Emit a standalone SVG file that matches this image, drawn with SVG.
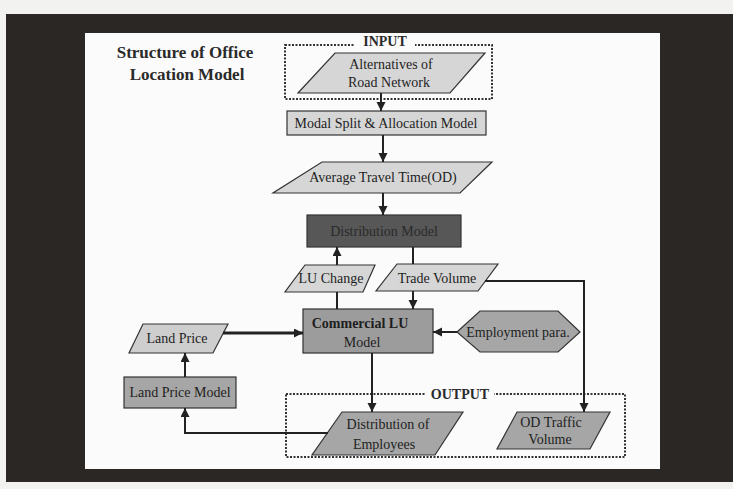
<svg xmlns="http://www.w3.org/2000/svg" width="733" height="489" viewBox="0 0 733 489">
  <defs>
    <marker id="arr" markerUnits="userSpaceOnUse" markerWidth="10" markerHeight="10" refX="9" refY="4.5" orient="auto">
      <path d="M0,0 L9,4.5 L0,9 z" fill="#222"/>
    </marker>
    <style>
      .t { font-family: "Liberation Serif", "Times New Roman", serif; font-size: 14px; fill: #1e1e1e; text-anchor: middle; }
      .tb { font-family: "Liberation Serif", "Times New Roman", serif; font-weight: bold; fill: #2a2a2a; text-anchor: middle; }
      .light { fill: #d6d6d6; stroke: #333; stroke-width: 1.2; }
      .mid { fill: #a6a6a6; stroke: #333; stroke-width: 1.2; }
      .dark { fill: #575757; stroke: #333; stroke-width: 1.2; }
      .dot { fill: none; stroke: #333; stroke-width: 2; stroke-dasharray: 2 1.5; }
      .c { fill: none; stroke: #222; stroke-width: 2; }
    </style>
  </defs>

  <!-- background and frame -->
  <rect x="0" y="0" width="733" height="489" fill="#f2f2f0"/>
  <rect x="6" y="14" width="727" height="468" fill="#2b2724"/>
  <rect x="85" y="33" width="575" height="436" fill="#fbfbfb"/>

  <!-- title -->
  <g id="title">
    <text class="tb" x="185" y="58" font-size="17">Structure of Office</text>
    <text class="tb" x="187" y="80" font-size="17">Location Model</text>
  </g>

  <!-- input / output frames -->
  <g id="input-frame">
    <rect class="dot" x="285" y="45" width="207" height="54"/>
    <rect x="355" y="36" width="60" height="16" fill="#fbfbfb"/>
    <text class="tb" x="385" y="46" font-size="14">INPUT</text>
  </g>
  <g id="output-frame">
    <rect class="dot" x="286" y="394" width="339" height="63"/>
    <rect x="426" y="385" width="68" height="16" fill="#fbfbfb"/>
    <text class="tb" x="460" y="399" font-size="14">OUTPUT</text>
  </g>

  <!-- nodes -->
  <g id="alternatives">
    <polygon class="light" points="335,53 485,53 450,93 298,93"/>
    <text class="t" x="391" y="69">Alternatives of</text>
    <text class="t" x="389" y="87">Road Network</text>
  </g>
  <g id="modal-split">
    <rect class="light" x="287" y="111" width="199" height="24"/>
    <text class="t" x="386" y="128">Modal Split &amp; Allocation Model</text>
  </g>
  <g id="avg-travel-time">
    <polygon class="light" points="322,162 492,162 460,193 273,193"/>
    <text class="t" x="383" y="182">Average Travel Time(OD)</text>
  </g>
  <g id="distribution-model">
    <rect class="dark" x="307" y="215" width="154" height="32"/>
    <text class="t" x="384" y="236" style="fill:#2a2a2a">Distribution Model</text>
  </g>
  <g id="lu-change">
    <polygon class="light" points="305,265 375,265 363,292 285,292"/>
    <text class="t" x="331" y="283">LU Change</text>
  </g>
  <g id="trade-volume">
    <polygon class="light" points="397,264 498,264 478,291 376,291"/>
    <text class="t" x="437" y="283">Trade Volume</text>
  </g>
  <g id="commercial-lu">
    <rect class="mid" x="303" y="309" width="130" height="44" style="fill:#9c9c9c"/>
    <text class="t" x="360" y="328" style="font-weight:bold">Commercial LU</text>
    <text class="t" x="362" y="347">Model</text>
  </g>
  <g id="employment-para">
    <polygon class="mid" points="457,332 480,311 558,311 580,332 558,352 480,352"/>
    <text class="t" x="518" y="337">Employment para.</text>
  </g>
  <g id="land-price">
    <polygon class="light" points="143,324 228,324 213,353 129,353" style="fill:#cecece"/>
    <text class="t" x="177" y="343">Land Price</text>
  </g>
  <g id="land-price-model">
    <rect class="mid" x="124" y="377" width="112" height="31"/>
    <text class="t" x="180" y="397">Land Price Model</text>
  </g>
  <g id="distribution-employees">
    <polygon class="mid" points="342,412 463,412 435,455 312,455"/>
    <text class="t" x="388" y="429">Distribution of</text>
    <text class="t" x="384" y="449">Employees</text>
  </g>
  <g id="od-traffic">
    <polygon class="mid" points="517,412 610,412 590,449 497,449"/>
    <text class="t" x="551" y="427">OD Traffic</text>
    <text class="t" x="550" y="444">Volume</text>
  </g>

  <!-- connectors -->
  <g id="connectors">
    <line class="c" x1="381" y1="93" x2="381" y2="111" marker-end="url(#arr)"/>
    <line class="c" x1="383" y1="135" x2="383" y2="162" marker-end="url(#arr)"/>
    <line class="c" x1="383" y1="193" x2="383" y2="215" marker-end="url(#arr)"/>
    <line class="c" x1="337" y1="265" x2="337" y2="247" marker-end="url(#arr)"/>
    <line class="c" x1="337" y1="309" x2="337" y2="292"/>
    <line class="c" x1="413" y1="247" x2="413" y2="264"/>
    <line class="c" x1="413" y1="291" x2="413" y2="309" marker-end="url(#arr)"/>
    <path class="c" d="M485,281 H584 V412" marker-end="url(#arr)"/>
    <line class="c" x1="223" y1="333" x2="303" y2="333" marker-end="url(#arr)" style="stroke-width:3"/>
    <line class="c" x1="457" y1="332" x2="433" y2="332" marker-end="url(#arr)"/>
    <line class="c" x1="372" y1="353" x2="372" y2="412" marker-end="url(#arr)"/>
    <path class="c" d="M328,433 H185 V408" marker-end="url(#arr)"/>
    <line class="c" x1="185" y1="377" x2="185" y2="353" marker-end="url(#arr)"/>
  </g>
</svg>
